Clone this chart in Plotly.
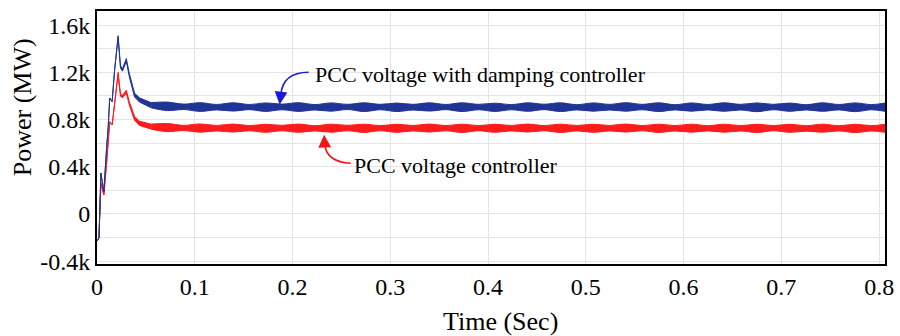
import plotly.graph_objects as go

# ---------------- data ----------------
# start-up transient (thin line)
t_tr = [0.000, 0.002, 0.004, 0.007, 0.0098, 0.0115, 0.013, 0.0155, 0.018, 0.0216,
        0.024, 0.026, 0.030, 0.033, 0.0384, 0.0435, 0.0553]
blue_tr = [-230, -203, 347, 186, 560, 740, 983, 952, 1220, 1503,
           1248, 1220, 1305, 1178, 1008, 966, 922]
red_tr = [-230, -203, 263, 161, 432, 600, 782, 754, 941, 1192,
          1008, 994, 1037, 938, 811, 768, 740]
tr_halfwidth = [0, 0, 0, 0, 0, 0, 0, 0, 3, 8, 10, 10, 12, 14, 16, 18, 21]

# steady-state oscillating band: centre and half thickness of the envelope
t_band = [0.0553, 0.0720, 0.0888, 0.1055, 0.1223, 0.1390, 0.1558, 0.1725, 0.1893, 0.2060,
          0.2228, 0.2395, 0.2563, 0.2730, 0.2898, 0.3065, 0.3233, 0.3400, 0.3568, 0.3735,
          0.3903, 0.4070, 0.4238, 0.4405, 0.4573, 0.4740, 0.4908, 0.5075, 0.5243, 0.5410,
          0.5578, 0.5745, 0.5913, 0.6080, 0.6248, 0.6415, 0.6583, 0.6750, 0.6918, 0.7085,
          0.7253, 0.7420, 0.7588, 0.7755, 0.7923, 0.8060]
blue_mid = [922, 912, 908, 906, 905, 907, 906, 905, 907, 906, 904, 906, 907, 905, 906, 904,
            905, 907, 906, 905, 906, 904, 905, 906, 907, 905, 904, 906, 905, 907, 906, 905,
            904, 906, 905, 906, 905, 904, 906, 905, 904, 906, 905, 904, 905, 905]
blue_hw = [22, 36, 23, 37, 23, 35, 22, 36, 24, 37, 23, 35, 22, 37, 23, 36, 24, 35, 22, 37,
           23, 35, 22, 36, 23, 37, 22, 35, 24, 36, 23, 37, 22, 35, 23, 36, 24, 37, 23, 35,
           22, 36, 23, 37, 22, 35]
red_mid = [740, 732, 729, 728, 727, 728, 727, 726, 728, 727, 726, 727, 728, 726, 727, 726,
           727, 728, 727, 726, 727, 726, 727, 728, 727, 726, 727, 726, 727, 728, 727, 726,
           726, 727, 726, 727, 726, 725, 727, 726, 725, 727, 726, 725, 726, 726]
red_hw = [22, 34, 22, 35, 23, 34, 22, 34, 23, 35, 22, 34, 23, 35, 22, 34, 23, 34, 22, 35,
          22, 34, 23, 34, 22, 35, 23, 34, 23, 34, 22, 35, 23, 34, 22, 34, 23, 35, 22, 34,
          23, 34, 22, 35, 23, 34]

x_ticks = [0, 0.1, 0.2, 0.3, 0.4, 0.5, 0.6, 0.7, 0.8]
x_labels = ["0", "0.1", "0.2", "0.3", "0.4", "0.5", "0.6", "0.7", "0.8"]
y_ticks = [-400, -200, 0, 200, 400, 600, 800, 1000, 1200, 1400, 1600]
y_labels = ["-0.4k", "", "0", "", "0.4k", "", "0.8k", "", "1.2k", "", "1.6k"]

BLUE = "rgb(32,52,150)"
RED = "rgb(250,28,28)"
FONT = "Liberation Serif"

fig = go.Figure()


def add_band(t, mid, hw, color, shape):
    up = [m + h for m, h in zip(mid, hw)]
    lo = [m - h for m, h in zip(mid, hw)]
    fig.add_trace(go.Scatter(x=t, y=up, mode="lines", line=dict(color=color, width=1, shape=shape),
                             showlegend=False, hoverinfo="skip"))
    fig.add_trace(go.Scatter(x=t, y=lo, mode="lines", line=dict(color=color, width=1, shape=shape),
                             fill="tonexty", fillcolor=color, showlegend=False, hoverinfo="skip"))


# red drawn first, blue on top (as in the transient)
add_band(t_tr, red_tr, tr_halfwidth, RED, "linear")
add_band(t_band, red_mid, red_hw, RED, "spline")
add_band(t_tr, blue_tr, tr_halfwidth, BLUE, "linear")
add_band(t_band, blue_mid, blue_hw, BLUE, "spline")

# annotations with curved arrows
fig.add_annotation(x=0.2214, y=1178, text="PCC voltage with damping controller",
                   showarrow=False, xanchor="left", yanchor="middle",
                   font=dict(family=FONT, size=22, color="black"))
fig.add_annotation(x=0.2609, y=407, text="PCC voltage controller",
                   showarrow=False, xanchor="left", yanchor="middle",
                   font=dict(family=FONT, size=22, color="black"))

fig.add_shape(type="path", xref="x", yref="y",
              path="M 0.2164,1201 Q 0.1900,1200 0.1880,1010",
              line=dict(color="rgb(25,25,215)", width=1.6))
fig.add_annotation(x=0.1868, y=928, ax=0.1880, ay=1015, axref="x", ayref="y",
                   xref="x", yref="y", text="", showarrow=True,
                   arrowhead=2, arrowsize=1.6, arrowwidth=1.6, arrowcolor="rgb(25,25,215)")

fig.add_shape(type="path", xref="x", yref="y",
              path="M 0.2595,430 Q 0.2350,440 0.2328,590",
              line=dict(color="rgb(245,20,20)", width=1.6))
fig.add_annotation(x=0.2323, y=672, ax=0.2328, ay=585, axref="x", ayref="y",
                   xref="x", yref="y", text="", showarrow=True,
                   arrowhead=2, arrowsize=1.6, arrowwidth=1.6, arrowcolor="rgb(245,20,20)")

# axis titles placed as free text
fig.add_annotation(xref="paper", yref="paper", x=0.512, y=-0.229, text="Time (Sec)",
                   showarrow=False, xanchor="center", yanchor="middle",
                   font=dict(family=FONT, size=26, color="black"))
fig.add_annotation(xref="paper", yref="paper", x=-0.095, y=0.62, text="Power (MW)",
                   showarrow=False, textangle=-90, xanchor="center", yanchor="middle",
                   font=dict(family=FONT, size=26, color="black"))

fig.update_layout(
    width=900, height=336,
    margin=dict(l=97, r=6, t=11, b=72),
    paper_bgcolor="white", plot_bgcolor="white",
    font=dict(family=FONT, size=24, color="black"),
    showlegend=False,
)
fig.update_xaxes(range=[0, 0.806], tickvals=x_ticks, ticktext=x_labels,
                 showgrid=True, gridcolor="rgb(228,228,228)", gridwidth=1,
                 showline=True, linecolor="black", linewidth=2, mirror=True,
                 ticks="", zeroline=False, tickfont=dict(family=FONT, size=24),
                 ticklabeloverflow="allow")
fig.update_yaxes(range=[-424, 1720], tickvals=y_ticks, ticktext=y_labels,
                 showgrid=True, gridcolor="rgb(228,228,228)", gridwidth=1,
                 showline=True, linecolor="black", linewidth=2, mirror=True,
                 ticks="", zeroline=False, tickfont=dict(family=FONT, size=24),
                 ticklabeloverflow="allow")

fig.write_html("out.html")
